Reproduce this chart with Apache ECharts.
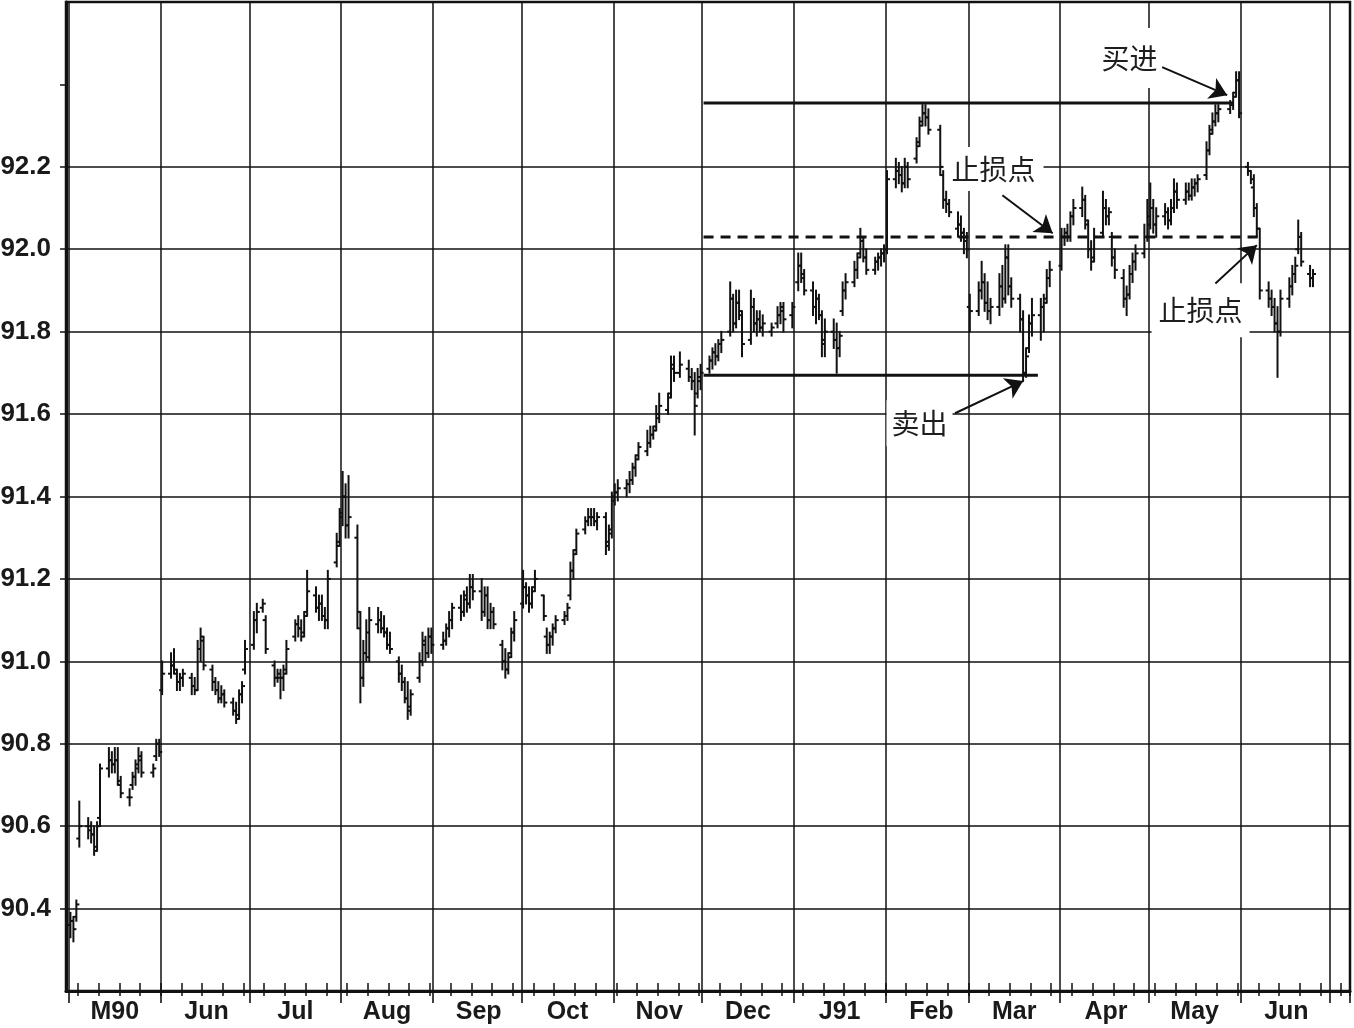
<!DOCTYPE html>
<html>
<head>
<meta charset="utf-8">
<script src="https://cdn.jsdelivr.net/npm/echarts/dist/echarts.min.js"></script>
<style>
html,body{margin:0;padding:0;background:#fff;}
#chart{width:1354px;height:1028px;}
</style>
</head>
<body>
<div id="chart"></div>
<script>
// ---------- axis / calendar ----------
const axisStart = '1990-04-30';
const axisEnd = '1991-07-07';
const firstTradeDay = '1990-05-01';
const lastTradeDay = '1991-06-25';
const holidays = ['1990-05-28','1990-07-04','1990-09-03','1990-11-22','1990-12-25',
                  '1991-01-01','1991-02-18','1991-03-29','1991-05-27'];
const monthKeys = ['1990-05','1990-06','1990-07','1990-08','1990-09','1990-10','1990-11',
                   '1990-12','1991-01','1991-02','1991-03','1991-04','1991-05','1991-06'];
const monthNames = ['M90','Jun','Jul','Aug','Sep','Oct','Nov','Dec','J91','Feb','Mar','Apr','May','Jun'];
const yMin = 90.2, yMax = 92.6, yStep = 0.2;
const yGridValues = [90.4, 90.6, 90.8, 91.0, 91.2, 91.4, 91.6, 91.8, 92.0, 92.2];
const yExtraTicks = [92.4];

// ---------- daily OHLC (one line per month) ----------
const opens = [
 90.36,90.37,90.38,90.57,90.60,90.59,90.58,90.55,90.62,90.74,90.76,90.75,90.76,90.70,90.67,90.70,90.72,90.75,90.76,90.73,90.77,90.80,
 90.93,90.97,90.99,90.97,90.95,90.96,90.96,90.94,90.93,91.03,91.05,90.98,90.95,90.93,90.91,90.92,90.90,90.88,90.87,90.92,90.98,
 91.04,91.10,91.13,91.10,90.99,90.96,90.96,90.96,90.98,91.06,91.09,91.08,91.07,91.12,91.16,91.13,91.14,91.11,91.10,91.24,91.29,
 91.36,91.40,91.33,91.30,91.08,90.96,91.02,91.01,91.09,91.10,91.08,91.07,91.04,91.00,90.97,90.95,90.91,90.89,90.96,91.00,91.04,91.02,91.06,
 91.04,91.05,91.08,91.10,91.13,91.12,91.15,91.14,91.18,91.17,91.12,91.16,91.10,91.12,91.04,91.00,90.98,91.02,91.07,
 91.14,91.18,91.16,91.14,91.18,91.16,91.06,91.04,91.06,91.08,91.10,91.11,91.16,91.22,91.27,91.32,91.34,91.35,91.35,91.34,91.35,91.29,91.32,
 91.40,91.41,91.42,91.43,91.44,91.47,91.50,91.51,91.53,91.55,91.57,91.59,91.61,91.65,91.71,91.70,91.71,91.69,91.68,91.65,91.68,
 91.71,91.73,91.75,91.74,91.77,91.80,91.88,91.82,91.87,91.84,91.78,91.86,91.82,91.83,91.81,91.80,91.82,91.84,91.85,91.84,
 91.92,91.96,91.93,91.90,91.86,91.88,91.84,91.78,91.80,91.78,91.76,91.85,91.90,91.92,91.95,91.99,92.02,91.98,91.95,91.97,91.98,91.99,
 92.00,92.17,92.19,92.18,92.16,92.20,92.22,92.26,92.31,92.33,92.32,92.29,92.18,92.12,92.11,92.05,92.06,92.04,92.02,
 91.86,91.85,91.90,91.92,91.87,91.85,91.86,91.91,91.88,91.98,91.91,91.88,91.83,91.70,91.76,91.82,91.84,91.86,91.88,91.93,
 91.96,92.03,92.04,92.03,92.08,92.10,92.12,92.06,92.00,91.98,92.04,92.10,92.08,92.03,91.98,91.93,91.88,91.89,91.94,91.97,91.99,92.03,
 92.06,92.10,92.06,92.08,92.09,92.07,92.10,92.14,92.12,92.14,92.13,92.15,92.16,92.18,92.24,92.29,92.31,92.33,92.34,92.35,92.38,92.41,
 92.20,92.19,92.15,92.10,92.05,91.90,91.88,91.86,91.82,91.80,91.88,91.91,91.94,92.00,92.03,91.94,91.93
];
const highs = [
 90.39,90.38,90.42,90.66,90.62,90.61,90.60,90.61,90.75,90.79,90.78,90.79,90.79,90.72,90.69,90.73,90.76,90.79,90.78,90.75,90.81,90.81,
 91.00,91.02,91.03,90.98,90.97,90.98,90.97,90.96,91.05,91.08,91.06,90.99,90.96,90.95,90.94,90.93,90.91,90.90,90.93,90.95,91.05,
 91.12,91.14,91.15,91.11,91.00,90.98,90.98,90.99,91.05,91.10,91.11,91.10,91.12,91.22,91.18,91.16,91.16,91.13,91.22,91.31,91.37,
 91.46,91.43,91.45,91.33,91.12,91.05,91.10,91.13,91.13,91.12,91.11,91.08,91.07,91.01,90.99,90.96,90.95,90.93,91.02,91.07,91.06,91.08,91.08,
 91.07,91.09,91.12,91.14,91.16,91.17,91.18,91.21,91.21,91.20,91.18,91.18,91.14,91.13,91.05,91.03,91.02,91.08,91.12,
 91.22,91.19,91.18,91.18,91.22,91.16,91.08,91.07,91.09,91.11,91.12,91.14,91.24,91.27,91.32,91.35,91.37,91.37,91.37,91.36,91.36,91.33,91.41,
 91.43,91.44,91.44,91.46,91.48,91.50,91.53,91.56,91.57,91.57,91.62,91.65,91.65,91.74,91.74,91.75,91.73,91.71,91.70,91.71,91.72,
 91.74,91.76,91.77,91.78,91.80,91.92,91.89,91.90,91.90,91.85,91.90,91.88,91.85,91.85,91.84,91.82,91.86,91.87,91.87,91.87,
 91.99,91.99,91.95,91.92,91.90,91.89,91.85,91.83,91.83,91.82,91.80,91.92,91.94,91.97,91.99,92.05,92.03,92.00,91.98,91.99,92.00,92.01,
 92.19,92.22,92.21,92.20,92.22,92.21,92.27,92.32,92.35,92.35,92.34,92.30,92.19,92.14,92.12,92.09,92.08,92.05,92.04,
 91.89,91.92,91.97,91.94,91.92,91.88,91.94,91.96,92.01,92.01,91.93,91.89,91.85,91.76,91.84,91.88,91.88,91.89,91.95,91.97,
 92.05,92.05,92.06,92.09,92.12,92.15,92.13,92.07,92.02,92.05,92.14,92.12,92.10,92.04,92.00,91.95,91.91,91.96,91.99,92.01,92.06,92.12,
 92.16,92.12,92.10,92.11,92.10,92.12,92.17,92.16,92.16,92.16,92.17,92.17,92.18,92.26,92.30,92.33,92.35,92.35,92.36,92.38,92.43,92.43,
 92.21,92.19,92.18,92.11,92.05,91.92,91.90,91.88,91.86,91.90,91.93,91.96,91.98,92.07,92.04,91.96,91.95
];
const lows = [
 90.33,90.32,90.37,90.55,90.57,90.56,90.53,90.54,90.60,90.72,90.73,90.73,90.70,90.67,90.65,90.69,90.70,90.73,90.72,90.72,90.76,90.77,
 90.92,90.96,90.97,90.93,90.93,90.94,90.92,90.92,90.93,91.00,90.98,90.93,90.92,90.90,90.90,90.89,90.87,90.85,90.86,90.90,90.97,
 91.03,91.07,91.12,91.02,90.94,90.95,90.91,90.93,90.97,91.05,91.06,91.05,91.06,91.11,91.12,91.10,91.10,91.08,91.08,91.23,91.28,
 91.33,91.30,91.30,91.08,90.90,90.94,91.00,91.00,91.07,91.07,91.06,91.03,91.02,90.95,90.93,90.90,90.86,90.87,90.95,90.99,91.00,91.01,91.02,
 91.03,91.04,91.06,91.08,91.10,91.11,91.12,91.13,91.15,91.10,91.11,91.08,91.08,91.08,90.98,90.96,90.97,91.01,91.05,
 91.13,91.14,91.12,91.13,91.17,91.10,91.02,91.02,91.04,91.07,91.09,91.10,91.15,91.20,91.26,91.31,91.33,91.33,91.33,91.32,91.26,91.27,91.30,
 91.38,91.39,91.40,91.41,91.43,91.45,91.49,91.50,91.52,91.54,91.56,91.58,91.60,91.64,91.68,91.69,91.68,91.66,91.55,91.64,91.66,
 91.70,91.71,91.72,91.73,91.75,91.79,91.80,91.81,91.83,91.74,91.77,91.80,91.79,91.80,91.79,91.79,91.81,91.82,91.80,91.81,
 91.90,91.92,91.89,91.84,91.82,91.83,91.74,91.74,91.76,91.70,91.74,91.84,91.88,91.91,91.93,91.98,91.97,91.94,91.94,91.95,91.96,91.97,
 91.99,92.15,92.16,92.14,92.15,92.15,92.21,92.25,92.30,92.30,92.28,92.18,92.10,92.09,92.08,92.03,92.02,91.99,91.98,
 91.80,91.84,91.88,91.85,91.83,91.82,91.84,91.86,91.87,91.89,91.86,91.80,91.68,91.69,91.75,91.79,91.78,91.80,91.87,91.91,
 91.95,92.01,92.02,92.02,92.06,92.08,92.05,91.98,91.95,91.97,92.03,92.06,92.06,91.96,91.93,91.86,91.84,91.88,91.92,91.95,91.98,92.02,
 92.05,92.04,92.03,92.06,92.05,92.06,92.09,92.10,92.11,92.12,92.12,92.13,92.14,92.17,92.23,92.28,92.30,92.31,92.33,92.34,92.37,92.32,
 92.18,92.16,92.08,92.03,91.88,91.86,91.84,91.80,91.69,91.79,91.86,91.89,91.92,91.99,91.96,91.91,91.91
];
const closes = [
 90.37,90.35,90.41,90.60,90.60,90.58,90.54,90.60,90.74,90.76,90.75,90.76,90.71,90.68,90.67,90.72,90.74,90.77,90.73,90.74,90.80,90.78,
 90.97,90.99,90.98,90.95,90.96,90.97,90.94,90.93,91.03,91.06,90.99,90.95,90.93,90.91,90.92,90.90,90.88,90.86,90.92,90.94,91.03,
 91.10,91.12,91.14,91.03,90.96,90.97,90.96,90.97,91.03,91.09,91.08,91.06,91.11,91.17,91.13,91.14,91.11,91.10,91.20,91.28,91.35,
 91.40,91.33,91.35,91.12,90.96,91.02,91.07,91.10,91.10,91.08,91.07,91.04,91.03,90.97,90.95,90.91,90.88,90.92,91.00,91.05,91.02,91.06,91.04,
 91.05,91.08,91.10,91.13,91.12,91.16,91.14,91.18,91.17,91.12,91.16,91.10,91.12,91.09,91.00,90.98,91.01,91.07,91.10,
 91.18,91.16,91.14,91.17,91.20,91.11,91.04,91.06,91.08,91.10,91.11,91.13,91.22,91.26,91.31,91.34,91.35,91.35,91.34,91.35,91.28,91.31,91.39,
 91.41,91.42,91.43,91.44,91.47,91.49,91.52,91.53,91.55,91.56,91.60,91.62,91.64,91.72,91.70,91.72,91.69,91.68,91.62,91.69,91.70,
 91.73,91.75,91.74,91.77,91.78,91.88,91.82,91.87,91.85,91.77,91.86,91.82,91.83,91.81,91.82,91.81,91.84,91.86,91.83,91.86,
 91.96,91.94,91.90,91.86,91.88,91.84,91.77,91.80,91.78,91.76,91.79,91.90,91.92,91.95,91.98,92.02,91.98,91.95,91.97,91.98,91.99,92.00,
 92.17,92.19,92.18,92.16,92.20,92.17,92.25,92.30,92.33,92.32,92.29,92.20,92.12,92.11,92.09,92.06,92.04,92.02,92.00,
 91.85,91.90,91.92,91.87,91.85,91.86,91.91,91.88,91.98,91.91,91.88,91.83,91.70,91.74,91.82,91.84,91.86,91.87,91.93,91.95,
 92.03,92.04,92.03,92.08,92.10,92.12,92.07,92.00,91.97,92.03,92.10,92.08,92.09,91.98,91.95,91.88,91.89,91.94,91.97,91.99,92.03,92.08,
 92.10,92.06,92.08,92.09,92.07,92.10,92.14,92.12,92.14,92.13,92.15,92.16,92.17,92.24,92.28,92.31,92.33,92.34,92.35,92.37,92.41,92.33,
 92.19,92.17,92.10,92.05,91.90,91.88,91.86,91.82,91.80,91.88,91.91,91.94,91.96,92.03,91.97,91.93,91.94
];

// ---------- drawn levels and notes ----------
const levelStart = '1990-12-01';
const buyLevel = 92.355,  buyLevelEnd = '1991-05-29';
const stopLevel = 92.03,  stopLevelEnd = '1991-06-07';
const sellLevel = 91.694, sellLevelEnd = '1991-03-24';
const noteTexts  = ['买进', '止损点', '止损点', '卖出'];
const noteDates  = ['1991-04-24', '1991-03-09', '1991-05-18', '1991-02-12'];
const noteValues = [92.464, 92.195, 91.852, 91.578];
const noteBoxes  = [[64, 60], [100, 44], [98, 54], [66, 46]];
const arrowFrom  = [['1991-05-05', 92.442], ['1991-03-12', 92.131], ['1991-05-23', 91.917], ['1991-02-24', 91.602]];
const arrowTo    = [['1991-05-27', 92.374], ['1991-03-29', 92.039], ['1991-06-06', 92.010], ['1991-03-19', 91.680]];

// ---------- helpers ----------
const DAY = 86400000;
function toUTC(s) { const p = s.split('-').map(Number); return Date.UTC(p[0], p[1] - 1, p[2]); }
const t0 = toUTC(axisStart);
function ci(s) { return Math.round((toUTC(s) - t0) / DAY); }
function fmt(t) { return new Date(t).toISOString().slice(0, 10); }

const categories = [];
for (let t = t0; t <= toUTC(axisEnd); t += DAY) categories.push(fmt(t));

const tradeDates = [];
for (let t = toUTC(firstTradeDay); t <= toUTC(lastTradeDay); t += DAY) {
  const wd = new Date(t).getUTCDay();
  const s = fmt(t);
  if (wd !== 0 && wd !== 6 && holidays.indexOf(s) < 0) tradeDates.push(s);
}
const n = Math.min(tradeDates.length, opens.length, highs.length, lows.length, closes.length);
const bars = [];
for (let i = 0; i < n; i++) bars.push([ci(tradeDates[i]), opens[i], highs[i], lows[i], closes[i]]);

const INK = '#111111';
const isMonthStart = (i, v) => v.slice(8) === '01';
const isMidMonth = (i, v) => v.slice(8) === '16' && monthKeys.indexOf(v.slice(0, 7)) >= 0;
const isFriday = (i, v) => new Date(toUTC(v)).getUTCDay() === 5;

function renderOHLC(params, api) {
  const i = api.value(0);
  const x = api.coord([i, api.value(2)])[0];
  const yO = api.coord([i, api.value(1)])[1];
  const yH = api.coord([i, api.value(2)])[1];
  const yL = api.coord([i, api.value(3)])[1];
  const yC = api.coord([i, api.value(4)])[1];
  const st = { stroke: INK, lineWidth: 2 };
  return {
    type: 'group',
    children: [
      { type: 'line', shape: { x1: x, y1: yH - 0.8, x2: x, y2: yL + 0.8 }, style: st },
      { type: 'line', shape: { x1: x - 3, y1: yO, x2: x, y2: yO }, style: st },
      { type: 'line', shape: { x1: x, y1: yC, x2: x + 3, y2: yC }, style: st }
    ]
  };
}

function levelData(end, v) { return [[ci(levelStart), v], [ci(end), v]]; }

const labelFont = { fontFamily: '"Liberation Sans", Arial, sans-serif', fontWeight: 'bold', color: '#1a1a1a' };

const option = {
  animation: false,
  backgroundColor: '#ffffff',
  grid: { left: 66, right: 4, top: 2, bottom: 37, show: true, borderColor: INK, borderWidth: 2.5,
          backgroundColor: 'transparent', outerBoundsMode: 'none', containLabel: false },
  xAxis: [
    {
      type: 'category', data: categories, position: 'bottom', boundaryGap: true,
      axisLine: { show: true, lineStyle: { color: INK, width: 3 } },
      axisTick: { show: true, interval: isMonthStart, length: 12, inside: false, lineStyle: { color: INK, width: 1.6 } },
      splitLine: { show: true, interval: isMonthStart, lineStyle: { color: INK, width: 1.5 } },
      axisLabel: Object.assign({ show: true, interval: isMidMonth, margin: 9, fontSize: 25,
        formatter: v => { const k = monthKeys.indexOf(v.slice(0, 7)); return k >= 0 ? monthNames[k] : ''; } }, labelFont)
    },
    {
      type: 'category', data: categories, position: 'bottom', offset: 0, boundaryGap: true,
      axisLine: { show: false },
      axisTick: { show: true, interval: isFriday, length: 5, inside: false, lineStyle: { color: INK, width: 1.5 } },
      splitLine: { show: false }, axisLabel: { show: false }
    },
    {
      type: 'category', data: categories, position: 'bottom', offset: 0, boundaryGap: true,
      axisLine: { show: false },
      axisTick: { show: true, interval: isFriday, length: 8, inside: true, lineStyle: { color: INK, width: 1.5 } },
      splitLine: { show: false }, axisLabel: { show: false }
    }
  ],
  yAxis: [
    {
      type: 'value', min: yMin, max: yMax, interval: yStep, position: 'left',
      axisLine: { show: true, lineStyle: { color: INK, width: 3 } },
      axisTick: { show: true, length: 6, customValues: yGridValues, lineStyle: { color: INK, width: 1.5 } },
      splitLine: { show: true, lineStyle: { color: INK, width: 1.5 } },
      axisLabel: Object.assign({ margin: 15, fontSize: 26, customValues: yGridValues,
        formatter: v => { const k = Math.round(v * 10); return (k >= 904 && k <= 922) ? (k / 10).toFixed(1) : ''; } }, labelFont)
    },
    {
      type: 'value', min: yMin, max: yMax, interval: yStep, position: 'left', offset: 0,
      axisLine: { show: false },
      axisTick: { show: true, length: 6, customValues: yExtraTicks, lineStyle: { color: INK, width: 1.5 } },
      splitLine: { show: false }, axisLabel: { show: false }
    }
  ],
  series: [
    {
      type: 'custom', name: 'bars', xAxisIndex: 0, yAxisIndex: 0, renderItem: renderOHLC, data: bars,
      encode: { x: 0, y: [1, 2, 3, 4] }, z: 3, silent: true
    },
    {
      type: 'line', name: 'buy', data: levelData(buyLevelEnd, buyLevel), symbol: 'none', silent: true,
      lineStyle: { color: INK, width: 3 }, z: 2
    },
    {
      type: 'line', name: 'stop', data: levelData(stopLevelEnd, stopLevel), symbol: 'none', silent: true,
      lineStyle: { color: INK, width: 3, type: [10, 7] }, z: 2
    },
    {
      type: 'line', name: 'sell', data: levelData(sellLevelEnd, sellLevel), symbol: 'none', silent: true,
      lineStyle: { color: INK, width: 3 }, z: 2,
      markPoint: {
        silent: true, z: 1, symbol: 'rect',
        itemStyle: { color: '#ffffff', borderWidth: 0 },
        label: { show: true, position: 'inside', formatter: '{b}', color: '#1e1e1e', fontSize: 28,
                 fontFamily: '"Noto Sans CJK SC", sans-serif' },
        data: noteTexts.map((t, k) => ({ name: t, coord: [ci(noteDates[k]), noteValues[k]], symbolSize: noteBoxes[k] }))
      },
      markLine: {
        silent: true, z: 4, symbol: ['none', 'arrow'], symbolSize: 17,
        label: { show: false },
        lineStyle: { color: INK, width: 2, type: 'solid' },
        emphasis: { disabled: true },
        data: arrowFrom.map((f, k) => [{ coord: [ci(f[0]), f[1]] }, { coord: [ci(arrowTo[k][0]), arrowTo[k][1]] }])
      }
    }
  ]
};

const chart = echarts.init(document.getElementById('chart'));
chart.setOption(option);
</script>
</body>
</html>
